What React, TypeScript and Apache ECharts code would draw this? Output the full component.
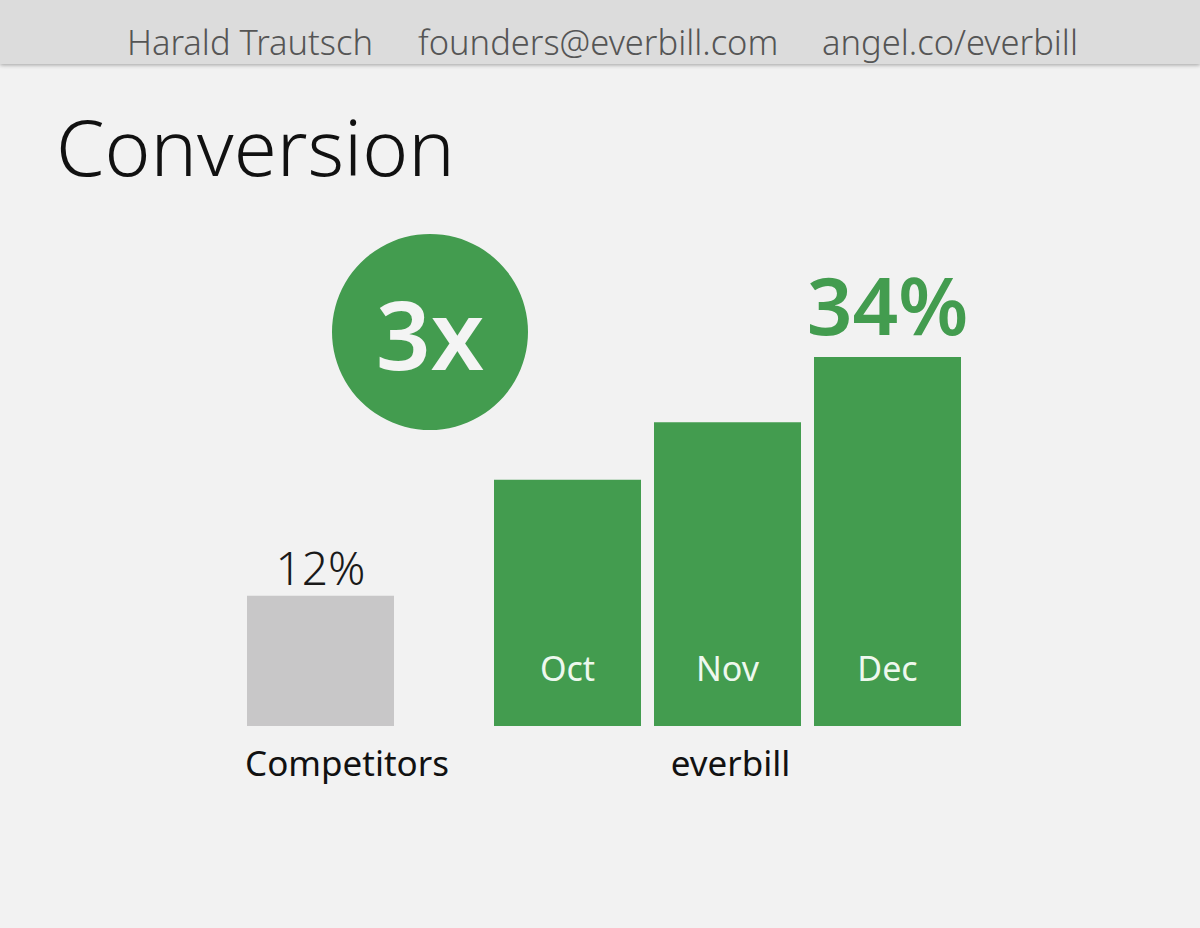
import React, { useEffect, useRef } from 'react';
import * as echarts from 'echarts';

const competitorCategories = ['Competitors'];
const competitorValues = [12];
const everbillCategories = ['Oct', 'Nov', 'Dec'];
const everbillValues = [22.7, 28, 34];
const headerItems = ['Harald Trautsch', 'founders@everbill.com', 'angel.co/everbill'];
const multiplierText = '3x';

const GREEN = '#439c4f';
const GREY_BAR = '#c8c7c8';
const FONT = '"Noto Sans", "Open Sans", sans-serif';

const App: React.FC = () => {
  const chartRef = useRef<HTMLDivElement>(null);

  useEffect(() => {
    if (!chartRef.current) return;
    const chart = echarts.init(chartRef.current, null, { renderer: 'svg' });

    const option: echarts.EChartsOption = {
      animation: false,
      backgroundColor: '#f2f2f2',
      textStyle: { fontFamily: FONT },
      grid: [
        { left: 247, width: 147, top: 292, bottom: 202 },
        { left: 487.5, width: 480, top: 292, bottom: 202 }
      ],
      xAxis: [
        {
          type: 'category',
          gridIndex: 0,
          data: competitorCategories,
          axisLine: { show: false },
          axisTick: { show: false },
          axisLabel: { show: false },
          name: competitorCategories[0],
          nameLocation: 'middle',
          nameGap: 19,
          nameTextStyle: {
            fontSize: 35,
            fontWeight: 400,
            color: '#111',
            fontFamily: FONT,
            padding: [0, 0, 0, 53]
          }
        },
        {
          type: 'category',
          gridIndex: 1,
          data: everbillCategories,
          axisLine: { show: false },
          axisTick: { show: false },
          axisLabel: { show: false },
          name: 'everbill',
          nameLocation: 'middle',
          nameGap: 19,
          nameTextStyle: { fontSize: 35, fontWeight: 400, color: '#111', fontFamily: FONT, padding: [0, 0, 0, 6] }
        }
      ],
      yAxis: [
        { type: 'value', gridIndex: 0, min: 0, max: 40, show: false },
        { type: 'value', gridIndex: 1, min: 0, max: 40, show: false }
      ],
      series: [
        {
          type: 'bar',
          xAxisIndex: 0,
          yAxisIndex: 0,
          data: competitorValues,
          barWidth: 147,
          itemStyle: { color: GREY_BAR },
          label: {
            show: true,
            position: 'top',
            distance: 6,
            formatter: '{c}%',
            fontSize: 46,
            fontWeight: 300,
            color: '#1a1a1a',
            fontFamily: FONT
          }
        },
        {
          type: 'bar',
          xAxisIndex: 1,
          yAxisIndex: 1,
          data: everbillValues,
          barWidth: 147,
          itemStyle: { color: GREEN },
          label: {
            show: true,
            position: 'insideBottom',
            distance: 41,
            formatter: (p: any) => everbillCategories[p.dataIndex],
            fontSize: 34,
            color: '#eef8ee',
            fontFamily: FONT
          }
        },
        {
          // headline value above the last month
          type: 'bar',
          xAxisIndex: 1,
          yAxisIndex: 1,
          barGap: '-100%',
          barWidth: 147,
          data: everbillValues.map((v, i) => (i === everbillValues.length - 1 ? v : '-')),
          itemStyle: { color: 'transparent' },
          silent: true,
          label: {
            show: true,
            position: 'top',
            distance: 14,
            formatter: (p: any) => `${Math.round(p.value)}%`,
            fontSize: 80,
            fontWeight: 600,
            color: GREEN,
            fontFamily: FONT
          },
          z: 5
        }
      ],
      graphic: [
        {
          type: 'rect',
          shape: { x: 0, y: 0, width: 1200, height: 64 },
          style: { fill: '#dcdcdc', shadowColor: 'rgba(0,0,0,0.35)', shadowBlur: 4, shadowOffsetY: 1 },
          z: 10
        },
        ...headerItems.map((t, i) => ({
          type: 'text' as const,
          x: [127, 418, 822][i],
          y: 41,
          style: {
            text: t,
            fill: '#555',
            font: `300 34.5px ${FONT}`,
            textVerticalAlign: 'middle'
          },
          z: 11
        })),
        {
          type: 'text',
          x: 56,
          y: 146,
          style: {
            text: 'Conversion',
            fill: '#111',
            font: `300 78px ${FONT}`,
            textVerticalAlign: 'middle'
          }
        },
        {
          type: 'circle',
          shape: { cx: 430, cy: 332, r: 98 },
          style: { fill: GREEN }
        },
        {
          type: 'text',
          x: 430,
          y: 332,
          style: {
            text: multiplierText,
            fill: '#f4f4f4',
            font: `600 96px ${FONT}`,
            textAlign: 'center',
            textVerticalAlign: 'middle'
          }
        }
      ]
    };

    chart.setOption(option);
    return () => {
      chart.dispose();
    };
  }, []);

  return (
    <div
      ref={chartRef}
      style={{ position: 'fixed', left: 0, top: 0, width: '1200px', height: '928px' }}
    />
  );
};

export default App;
